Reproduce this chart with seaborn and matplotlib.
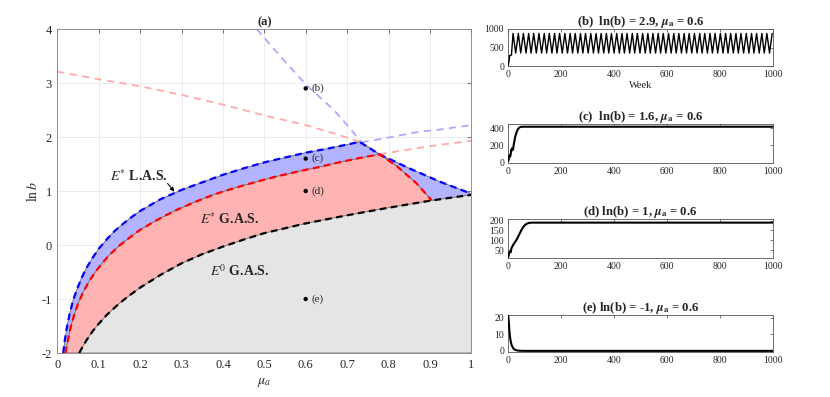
import numpy as np
import pandas as pd
import matplotlib
matplotlib.use("Agg")
import matplotlib.pyplot as plt
import seaborn as sns

# ---------------- data ----------------
# stability-region boundaries (mu_a, ln b)
blue_left_mu = [0.0143, 0.018, 0.023, 0.03, 0.038, 0.047, 0.058, 0.07, 0.085, 0.1, 0.12, 0.14,
                0.16, 0.18, 0.2, 0.225, 0.25, 0.3, 0.35, 0.4, 0.45, 0.5, 0.55, 0.6, 0.65, 0.7, 0.73]
blue_left_lnb = [-2.0, -1.77, -1.53, -1.27, -1.03, -0.83, -0.62, -0.43, -0.24, -0.07, 0.11, 0.27,
                 0.40, 0.52, 0.63, 0.74, 0.85, 1.02, 1.16, 1.30, 1.42, 1.53, 1.62, 1.71, 1.78, 1.86, 1.91]
blue_right_mu = [0.730, 0.778, 0.85, 0.925, 1.0]
blue_right_lnb = [1.91, 1.68, 1.42, 1.17, 0.95]

red_left_mu = [0.0198, 0.025, 0.032, 0.04, 0.05, 0.062, 0.076, 0.09, 0.105, 0.125, 0.15, 0.175,
               0.2, 0.24, 0.28, 0.33, 0.38, 0.43, 0.48, 0.53, 0.58, 0.63, 0.68, 0.73, 0.778]
red_left_lnb = [-2.0, -1.78, -1.53, -1.31, -1.09, -0.88, -0.68, -0.52, -0.37, -0.19, -0.01, 0.14,
                0.28, 0.46, 0.62, 0.79, 0.94, 1.06, 1.17, 1.27, 1.36, 1.44, 1.53, 1.61, 1.68]
red_right_mu = [0.778, 0.82, 0.868, 0.904]
red_right_lnb = [1.68, 1.46, 1.14, 0.83]

black_mu = [0.053, 0.06, 0.07, 0.085, 0.1, 0.12, 0.15, 0.175, 0.2, 0.25, 0.3, 0.35, 0.4, 0.45,
            0.5, 0.6, 0.7, 0.8, 0.9, 1.0]
black_lnb = [-2.0, -1.9, -1.77, -1.6, -1.46, -1.29, -1.08, -0.93, -0.79, -0.55, -0.34, -0.17,
             -0.03, 0.10, 0.22, 0.40, 0.55, 0.69, 0.82, 0.93]

# faint dashed threshold curves
pink_down_mu = [0.0, 0.1, 0.2, 0.3, 0.4, 0.5, 0.6, 0.667, 0.735, 0.778]
pink_down_lnb = [3.21, 3.07, 2.94, 2.78, 2.60, 2.40, 2.22, 2.07, 1.90, 1.68]
pink_up_mu = [0.778, 0.85, 0.9, 1.0]
pink_up_lnb = [1.68, 1.77, 1.83, 1.93]
lav_down_mu = [0.4815, 0.546, 0.602, 0.668, 0.707, 0.735]
lav_down_lnb = [4.0, 3.43, 2.96, 2.5, 2.16, 1.90]
lav_up_mu = [0.735, 0.8, 0.876, 0.916, 1.0]
lav_up_lnb = [1.90, 1.99, 2.10, 2.13, 2.22]

# sample points
point_mu = [0.6, 0.6, 0.6, 0.6]
point_lnb = [2.9, 1.6, 1.0, -1.0]
point_labels = ["(b)", "(c)", "(d)", "(e)"]

x_ticks = [0, 0.1, 0.2, 0.3, 0.4, 0.5, 0.6, 0.7, 0.8, 0.9, 1.0]
x_tick_labels = ["0", "0.1", "0.2", "0.3", "0.4", "0.5", "0.6", "0.7", "0.8", "0.9", "1"]
y_ticks = [-2, -1, 0, 1, 2, 3, 4]
y_tick_labels = ["-2", "-1", "0", "1", "2", "3", "4"]

# time series (b): transient then oscillation between peaks and troughs
b_init_weeks = [0, 3, 5, 10, 12]
b_init_vals = [20, 150, 280, 290, 300]
b_peak_weeks = [18, 38, 57, 77, 96, 116, 136, 155, 175, 194, 214, 234, 253, 273, 292, 312, 332,
                351, 371, 390, 410, 430, 449, 469, 488, 508, 528, 547, 567, 586, 606, 626, 645,
                665, 684, 704, 724, 743, 763, 782, 802, 822, 841, 861, 880, 900, 920, 939, 959,
                978, 998]
b_trough_weeks = [28, 47, 67, 86, 106, 126, 145, 165, 184, 204, 224, 243, 263, 282, 302, 322, 341,
                  361, 380, 400, 420, 439, 459, 478, 498, 518, 537, 557, 576, 596, 616, 635, 655,
                  674, 694, 714, 733, 753, 772, 792, 812, 831, 851, 870, 890, 910, 929, 949, 968,
                  988]
b_peak_val = 880
b_trough_val = 350

c_weeks = [0, 3, 5, 7, 9, 11, 13, 15, 18, 20, 23, 26, 30, 34, 38, 42, 46, 50, 60, 1000]
c_vals = [20, 60, 90, 70, 95, 150, 140, 170, 150, 200, 250, 300, 340, 375, 395, 408, 414, 416, 417, 417]

d_weeks = [0, 3, 6, 9, 12, 16, 20, 25, 31, 38, 45, 52, 58, 65, 72, 80, 90, 110, 1000]
d_vals = [15, 35, 45, 38, 60, 70, 80, 90, 102, 120, 140, 158, 170, 180, 186, 189, 190, 190, 190]

e_weeks = [0, 2, 4, 6, 8, 10, 13, 16, 20, 25, 30, 40, 60, 1000]
e_vals = [21, 17, 12.5, 9, 6.8, 5, 3.4, 2.3, 1.3, 0.7, 0.35, 0.1, 0.0, 0.0]

# ---------------- styling ----------------
sns.set_theme(style="white")
plt.rcParams['font.family'] = ['Liberation Serif', 'DejaVu Serif']
plt.rcParams['mathtext.fontset'] = 'stix'

W, H = 830, 397
fig = plt.figure(figsize=(W / 100, H / 100), dpi=100)

def dline(ax, x, y, color, lw, dash=None, z=3):
    sns.lineplot(x=np.asarray(x, float), y=np.asarray(y, float), ax=ax, sort=False,
                 estimator=None, color=color, linewidth=lw, zorder=z)
    ln = ax.get_lines()[-1]
    if dash is not None:
        ln.set_dashes(dash)
    return ln

# ---------------- main panel (a) ----------------
ax = fig.add_axes([57.3 / W, 1 - 353 / H, 414 / W, 324 / H])
ax.set_xlim(0, 1)
ax.set_ylim(-2, 4)
ax.grid(True, color='#e8e8e8', lw=0.6)
ax.set_axisbelow(True)

# faint thresholds (below fills)
dline(ax, pink_down_mu, pink_down_lnb, '#ffaaaa', 1.3, (4, 3), z=1.5)
dline(ax, pink_up_mu, pink_up_lnb, '#ffaaaa', 1.3, (4, 3), z=1.5)
dline(ax, lav_down_mu, lav_down_lnb, '#aaaaff', 1.3, (4, 3), z=1.5)
dline(ax, lav_up_mu, lav_up_lnb, '#aaaaff', 1.3, (4, 3), z=1.5)

blue_mu = blue_left_mu + blue_right_mu[1:]
blue_lnb = blue_left_lnb + blue_right_lnb[1:]
red_mu = red_left_mu + red_right_mu[1:]
red_lnb = red_left_lnb + red_right_lnb[1:]

edge = '#555555'
ax.fill(blue_mu + [1.0, blue_mu[0]], blue_lnb + [-2.0, -2.0], facecolor='#b3b3ff',
        edgecolor=edge, lw=0.5, zorder=2)
ax.fill(red_mu + [red_mu[-1], red_mu[0]], red_lnb + [-2.0, -2.0], facecolor='#ffb3b3',
        edgecolor=edge, lw=0.5, zorder=2.1)
ax.fill(black_mu + [1.0, black_mu[0]], black_lnb + [-2.0, -2.0], facecolor='#e5e5e5',
        edgecolor=edge, lw=0.5, zorder=2.2)

dline(ax, blue_mu, blue_lnb, '#0000ff', 1.6, (3, 2), z=3)
dline(ax, red_mu, red_lnb, '#ff0000', 1.6, (3, 2), z=3)
dline(ax, black_mu, black_lnb, 'black', 1.6, (3, 2), z=3)

sns.scatterplot(x=point_mu, y=point_lnb, ax=ax, color='black', s=10, edgecolor='none', zorder=5)
for m, l, t in zip(point_mu, point_lnb, point_labels):
    ax.text(m + 0.014, l, t, fontsize=8, ha='left', va='center', zorder=6)

ax.text(0.128, 1.27, r"$E^{*}$ L.A.S.", fontsize=10, fontweight='bold', ha='left', va='center', zorder=6)
ax.annotate("", xy=(0.287, 0.95), xytext=(0.262, 1.18),
            arrowprops=dict(arrowstyle='-|>', color='black', lw=0.7, mutation_scale=6), zorder=6)
ax.text(0.345, 0.475, r"$E^{*}$ G.A.S.", fontsize=10, fontweight='bold', ha='left', va='center', zorder=6)
ax.text(0.37, -0.475, r"$E^{0}$ G.A.S.", fontsize=10, fontweight='bold', ha='left', va='center', zorder=6)

ax.set_xticks(x_ticks)
ax.set_xticklabels(x_tick_labels)
ax.set_yticks(y_ticks)
ax.set_yticklabels(y_tick_labels)
ax.tick_params(direction='in', length=3, width=0.5, labelsize=9, colors='#444444',
               labelcolor='#262626', pad=4, top=True, right=True)
for s in ax.spines.values():
    s.set_color('#7f7f7f')
    s.set_linewidth(0.6)
ax.set_xlabel(r"$\mu_a$", fontsize=10, labelpad=4, color='#262626')
ax.set_ylabel(r"$\ln b$", fontsize=10, labelpad=1, color='#262626')
ax.set_title("(a)", fontsize=9, fontweight='bold', pad=3)

# ---------------- right panels ----------------
pk = pd.DataFrame({'week': b_peak_weeks, 'val': [b_peak_val] * len(b_peak_weeks)})
tr = pd.DataFrame({'week': b_trough_weeks, 'val': [b_trough_val] * len(b_trough_weeks)})
ini = pd.DataFrame({'week': b_init_weeks, 'val': b_init_vals})
b_df = pd.concat([ini, pk, tr]).sort_values('week').reset_index(drop=True)

panels = [
    ("(b)  ln(b) = 2.9, $\\mathbfit{\\mu}_\\mathbf{a}$ = 0.6", b_df['week'].values, b_df['val'].values,
     (0, 1000), [0, 500, 1000], (29, 66), 1.0, True),
    ("(c)  ln(b) = 1.6, $\\mathbfit{\\mu}_\\mathbf{a}$ = 0.6", c_weeks, c_vals,
     (0, 445), [0, 200, 400], (124.3, 162.7), 1.5, False),
    ("(d) ln(b) = 1, $\\mathbfit{\\mu}_\\mathbf{a}$ = 0.6", d_weeks, d_vals,
     (8, 207), [50, 100, 150, 200], (219.3, 258.3), 1.5, False),
    ("(e) ln(b) = -1, $\\mathbfit{\\mu}_\\mathbf{a}$ = 0.6", e_weeks, e_vals,
     (-0.5, 21.6), [0, 10, 20], (315, 351.7), 1.5, False),
]
for title, xs, ys, ylim, yt, (top, bot), lw, week_label in panels:
    a = fig.add_axes([508.3 / W, 1 - bot / H, 264.4 / W, (bot - top) / H])
    dline(a, xs, ys, 'black', lw, None, z=3)
    a.set_xlim(0, 1000)
    a.set_ylim(*ylim)
    a.set_xticks([0, 200, 400, 600, 800, 1000])
    a.set_yticks(yt)
    a.tick_params(direction='in', length=2, width=0.5, labelsize=7, colors='#444444',
                  labelcolor='#262626', pad=3, top=True, right=True)
    for s in a.spines.values():
        s.set_color('#555555')
        s.set_linewidth(0.6)
    a.set_title(title, fontsize=9.2, fontweight='bold', pad=3)
    a.set_xlabel("Week" if week_label else "", fontsize=7.5, labelpad=1, color='#262626')
    a.set_ylabel("")

fig.savefig("out.png", dpi=100)
